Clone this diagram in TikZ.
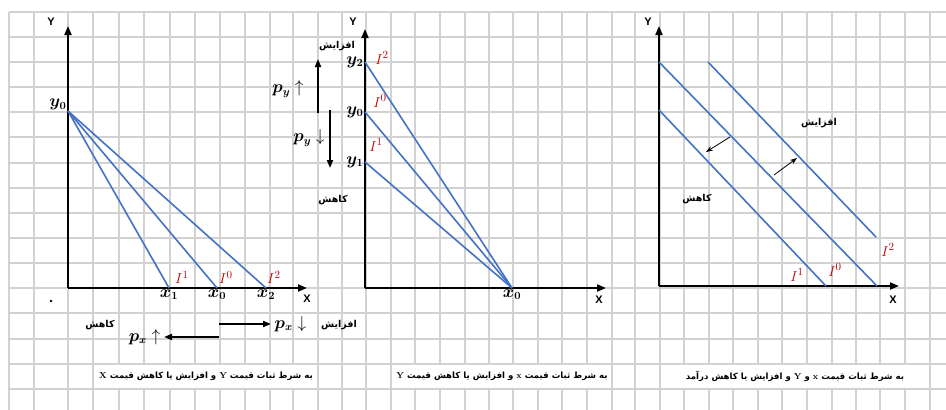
\documentclass[tikz,border=0pt]{standalone}
\usepackage{amsmath,amssymb}
\usepackage{fontspec}
\newfontfamily\fafont[Script=Arabic]{DejaVu Sans}
\newfontfamily\axfont{Liberation Sans}
\TeXXeTstate=1
\usepackage{tikz}
\usetikzlibrary{positioning, arrows.meta}
\definecolor{gridgray}{RGB}{210,210,210}
\definecolor{budget}{RGB}{68,114,196}
\definecolor{incred}{RGB}{192,0,0}

\begin{document}
\begin{tikzpicture}[
  x=1pt, y=-1pt,
  axis/.style={line width=2pt, -{Triangle[length=9pt,width=7pt]}},
  budline/.style={draw=budget, line width=1.6pt},
  shiftarr/.style={line width=1.8pt, -{Triangle[length=8pt,width=6pt]}},
  thinarr/.style={line width=0.8pt, -{Stealth[length=7pt,width=5pt]}},
  axlbl/.style={font=\axfont\bfseries\fontsize{11}{12}\selectfont, inner sep=0pt},
  mlbl/.style={font=\fontsize{16}{18}\selectfont, inner sep=0.5pt},
  ilbl/.style={text=incred, font=\fontsize{15.5}{17}\selectfont, inner sep=0pt},
  falbl/.style={font=\fafont\bfseries\fontsize{9.5}{10}\selectfont, inner sep=0pt},
  captext/.style={font=\fafont\bfseries\fontsize{8.6}{10}\selectfont, inner sep=0pt},
  dotmark/.style={circle, fill=black, inner sep=0pt, minimum size=2.6pt},
]
  \useasboundingbox (0,0) rectangle (946,410);

  % Table grid behind the graphs
  \foreach \r in {12,37,62,87,112,137,163,188,213,238,263,288,313,339,364,389}
    \draw[gridgray, line width=1.5pt] (9,\r) -- (946,\r);
  \foreach \c in {9,34,68,93,119,144,170,195,220,245,270,293,318,342,366,391,415,440,465,489,513,538,562,587,612,635,660,684,709,733,758,782,807,832,856,880,905,930} {
    \draw[gridgray, line width=1.5pt] (\c,12) -- (\c,364);
    \draw[gridgray, line width=1.5pt] (\c,389) -- (\c,410);
  }
  \foreach \c in {9,34,68,93,318,342,366,391,612,635,660,930}
    \draw[gridgray, line width=1.5pt] (\c,364) -- (\c,389);

  % Left graph: price of X changes
  \coordinate (o1) at (68,288);
  \coordinate (ytop1) at (68,26);
  \coordinate (xend1) at (307,288);
  \coordinate (y01) at (68,111);
  \coordinate (x11) at (169,288);
  \coordinate (x01) at (217,288);
  \coordinate (x21) at (266,288);
  \draw[axis] (o1) -- (ytop1);
  \draw[axis] (o1) -- (xend1);
  \draw[budline] (y01) -- (x11);
  \draw[budline] (y01) -- (x01);
  \draw[budline] (y01) -- (x21);
  \node[axlbl] (ylab1) at (51,22) {Y};
  \node[axlbl] (xlab1) at (307,299) {X};
  \node[mlbl, above left=0pt and 1pt of y01] (y0lab1) {$\boldsymbol{y_0}$};
  \node[mlbl, below=1pt of x11] (x1lab1) {$\boldsymbol{x_1}$};
  \node[mlbl, below=1pt of x01] (x0lab1) {$\boldsymbol{x_0}$};
  \node[mlbl, below=1pt of x21] (x2lab1) {$\boldsymbol{x_2}$};
  \node[ilbl, above right=4pt and 6pt of x11] (i1lab1) {$I^1$};
  \node[ilbl, above right=4pt and 2pt of x01] (i0lab1) {$I^0$};
  \node[ilbl, above right=4pt and 1pt of x21] (i2lab1) {$I^2$};
  \node[dotmark] (dot1) at (51,301) {};
  \coordinate (pxa) at (219,324);
  \coordinate (pxb) at (271,324);
  \coordinate (pxc) at (219,337);
  \coordinate (pxd) at (164,337);
  \draw[shiftarr] (pxa) -- (pxb);
  \draw[shiftarr] (pxc) -- (pxd);
  \node[mlbl, right=3pt of pxb] (pxdown) {$\boldsymbol{p_x}\downarrow$};
  \node[mlbl, left=3pt of pxd] (pxup) {$\boldsymbol{p_x}\uparrow$};
  \node[falbl] (dec1) at (100,325) {\beginR کاهش\endR};
  \node[falbl] (inc1) at (339,325) {\beginR افزایش\endR};

  % Middle graph: price of Y changes
  \coordinate (o2) at (365,288);
  \coordinate (ytop2) at (365,29);
  \coordinate (xend2) at (606,288);
  \coordinate (y22) at (365,62);
  \coordinate (y02) at (365,112);
  \coordinate (y12) at (365,162);
  \coordinate (x02) at (512,288);
  \draw[axis] (o2) -- (ytop2);
  \draw[axis] (o2) -- (xend2);
  \draw[budline] (y22) -- (x02);
  \draw[budline] (y02) -- (x02);
  \draw[budline] (y12) -- (x02);
  \node[axlbl] (ylab2) at (353,22) {Y};
  \node[axlbl] (xlab2) at (599,300) {X};
  \node[mlbl, left=1pt of y22] (y2lab2) {$\boldsymbol{y_2}$};
  \node[mlbl, left=1pt of y02] (y0lab2) {$\boldsymbol{y_0}$};
  \node[mlbl, left=1pt of y12] (y1lab2) {$\boldsymbol{y_1}$};
  \node[mlbl, below=1pt of x02] (x0lab2) {$\boldsymbol{x_0}$};
  \node[ilbl] (i2lab2) at (382,58) {$I^2$};
  \node[ilbl] (i0lab2) at (380,101) {$I^0$};
  \node[ilbl] (i1lab2) at (376,145) {$I^1$};
  \coordinate (pya) at (318,113);
  \coordinate (pyb) at (318,59);
  \coordinate (pyc) at (330,110);
  \coordinate (pyd) at (330,168);
  \draw[shiftarr] (pya) -- (pyb);
  \draw[shiftarr] (pyc) -- (pyd);
  \node[mlbl] (pyup) at (288,89) {$\boldsymbol{p_y}\uparrow$};
  \node[mlbl] (pydown) at (309,138) {$\boldsymbol{p_y}\downarrow$};
  \node[falbl] (inc2) at (337,46) {\beginR افزایش\endR};
  \node[falbl] (dec2) at (333,200) {\beginR کاهش\endR};

  % Right graph: income changes
  \coordinate (o3) at (659,286);
  \coordinate (ytop3) at (659,26);
  \coordinate (xend3) at (899,286);
  \coordinate (a1) at (659,110);
  \coordinate (b1) at (826,286);
  \coordinate (a0) at (659,62);
  \coordinate (b0) at (877,286);
  \coordinate (a2) at (708,62);
  \coordinate (b2) at (876,237);
  \draw[axis] (o3) -- (ytop3);
  \draw[axis] (o3) -- (xend3);
  \draw[budline] (a1) -- (b1);
  \draw[budline] (a0) -- (b0);
  \draw[budline] (a2) -- (b2);
  \node[axlbl] (ylab3) at (648,22) {Y};
  \node[axlbl] (xlab3) at (893,300) {X};
  \node[ilbl] (i2lab3) at (888,250) {$I^2$};
  \node[ilbl] (i1lab3) at (797,275) {$I^1$};
  \node[ilbl] (i0lab3) at (835,270) {$I^0$};
  \coordinate (sa) at (730,137);
  \coordinate (sb) at (706,152);
  \coordinate (sc) at (774,175);
  \coordinate (sd) at (797,158);
  \draw[thinarr] (sa) -- (sb);
  \draw[thinarr] (sc) -- (sd);
  \node[falbl] (inc3) at (819,123) {\beginR افزایش\endR};
  \node[falbl] (dec3) at (697,199) {\beginR کاهش\endR};

  % Captions
  \node[captext] (cap1) at (206,376) {\beginR به شرط ثبات قیمت {\rmfamily Y} و افزایش یا کاهش قیمت {\rmfamily X}\endR};
  \node[captext] (cap2) at (502,376) {\beginR به شرط ثبات قیمت {\rmfamily x} و افزایش یا کاهش قیمت {\rmfamily Y}\endR};
  \node[captext] (cap3) at (795,376) {\beginR به شرط ثبات قیمت {\rmfamily x} و {\rmfamily Y} و افزایش یا کاهش درآمد\endR};
\end{tikzpicture}
\end{document}
